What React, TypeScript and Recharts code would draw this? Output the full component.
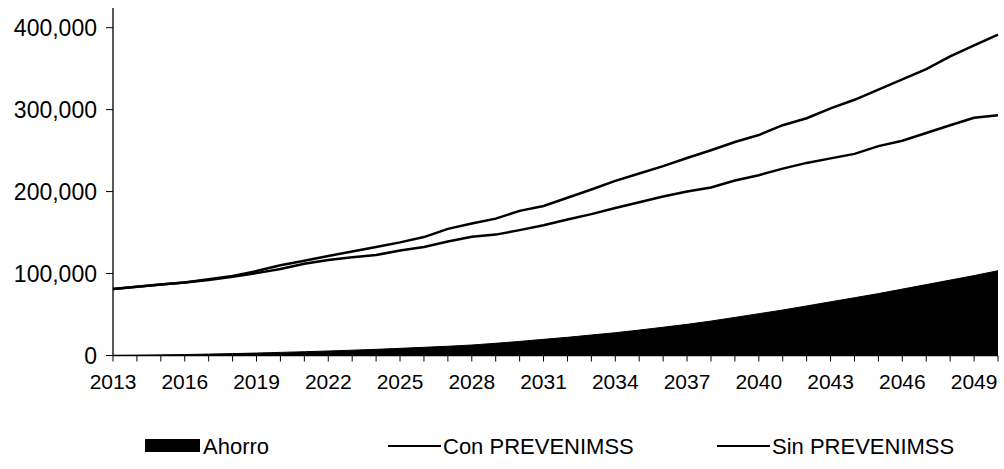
import React from 'react';
import { ComposedChart, Area, Line, XAxis, YAxis, Legend } from 'recharts';

const years = [
  2013, 2014, 2015, 2016, 2017, 2018, 2019, 2020, 2021, 2022,
  2023, 2024, 2025, 2026, 2027, 2028, 2029, 2030, 2031, 2032,
  2033, 2034, 2035, 2036, 2037, 2038, 2039, 2040, 2041, 2042,
  2043, 2044, 2045, 2046, 2047, 2048, 2049, 2050,
];

const ahorro = [
  0, 300, 700, 1200, 1700, 2300, 3000, 3800, 4600, 5500,
  6500, 7500, 8700, 10000, 11300, 12800, 14900, 17200, 19700, 22200,
  25000, 27800, 31000, 34500, 38000, 42000, 46500, 51000, 55500, 60500,
  65500, 70500, 75500, 81000, 86500, 92000, 97500, 103500,
];

const conPrevenimss = [
  81000, 84000, 86500, 89000, 92000, 96000, 100500, 105500, 112000, 116500,
  120000, 122500, 128000, 132500, 139000, 145000, 147500, 153000, 159000, 166000,
  172500, 180000, 187000, 194000, 200000, 205000, 213500, 220000, 228000, 235000,
  240500, 246000, 255500, 262000, 271500, 281000, 290000, 293000,
];

const sinPrevenimss = [
  81000, 84000, 86500, 89000, 93000, 97000, 103000, 110000, 115500, 121500,
  127000, 132500, 138000, 144500, 154500, 161000, 167000, 176500, 182500, 192500,
  202500, 213000, 222000, 231000, 241000, 250500, 260500, 269000, 281000, 289500,
  301500, 312000, 324500, 337000, 349500, 365000, 378500, 391500,
];

const yTicks = [0, 100000, 200000, 300000, 400000];
const xLabelYears = [2013, 2016, 2019, 2022, 2025, 2028, 2031, 2034, 2037, 2040, 2043, 2046, 2049];

const data = years.map((year, i) => ({
  year,
  ahorro: ahorro[i],
  con: conPrevenimss[i],
  sin: sinPrevenimss[i],
}));

const FONT = '"Liberation Sans", Arial, Helvetica, sans-serif';

const legendLayout: Record<string, { x: number; kind: 'rect' | 'line' }> = {
  Ahorro: { x: 145, kind: 'rect' },
  'Con PREVENIMSS': { x: 388, kind: 'line' },
  'Sin PREVENIMSS': { x: 717, kind: 'line' },
};

function LegendContent(props: any) {
  const payload = props.payload || [];
  const cy = 21;
  return (
    <div style={{ width: 1004, height: 34 }}>
      <svg width={1004} height={34} style={{ display: 'block' }}>
        {payload.map((entry: any) => {
          const name = entry.value as string;
          const lay = legendLayout[name];
          if (!lay) return null;
          if (lay.kind === 'rect') {
            return (
              <g key={name}>
                <rect x={lay.x} y={cy - 7} width={55} height={13} fill="#000" />
                <text x={lay.x + 58} y={cy} dy="0.36em" fontSize={22} fontFamily={FONT} fill="#000">
                  {name}
                </text>
              </g>
            );
          }
          return (
            <g key={name}>
              <line x1={lay.x} x2={lay.x + 53} y1={cy} y2={cy} stroke="#000" strokeWidth={2} />
              <text x={lay.x + 55} y={cy} dy="0.36em" fontSize={22} fontFamily={FONT} fill="#000">
                {name}
              </text>
            </g>
          );
        })}
      </svg>
    </div>
  );
}

export default function App() {
  return (
    <div style={{ position: 'absolute', left: 0, top: 0, width: 1004, height: 469, background: '#fff' }}>
      <ComposedChart
        width={1004}
        height={469}
        data={data}
        margin={{ top: 8, right: 6, bottom: 10, left: 0 }}
      >
        <XAxis
          dataKey="year"
          type="number"
          domain={[2013, 2050]}
          ticks={years}
          interval={0}
          tickSize={6}
          tickMargin={13}
          height={69.5}
          axisLine={{ stroke: '#000', strokeWidth: 1.3 }}
          tickLine={{ stroke: '#000', strokeWidth: 1 }}
          tick={{ fontSize: 21, fill: '#000', fontFamily: FONT }}
          tickFormatter={(v: number) => (xLabelYears.includes(v) ? String(v) : '')}
        />
        <YAxis
          type="number"
          domain={[0, 424000]}
          ticks={yTicks}
          interval={0}
          width={113}
          tickSize={7}
          tickMargin={9}
          axisLine={{ stroke: '#000', strokeWidth: 1.3 }}
          tickLine={{ stroke: '#000', strokeWidth: 1 }}
          tick={{ fontSize: 23, fill: '#000', fontFamily: FONT }}
          tickFormatter={(v: number) => v.toLocaleString('en-US')}
        />
        <Area
          type="linear"
          dataKey="ahorro"
          name="Ahorro"
          stroke="#000"
          strokeWidth={1}
          fill="#000"
          fillOpacity={1}
          isAnimationActive={false}
          dot={false}
          activeDot={false}
        />
        <Line
          type="linear"
          dataKey="con"
          name="Con PREVENIMSS"
          stroke="#000"
          strokeWidth={2.5}
          dot={false}
          activeDot={false}
          isAnimationActive={false}
        />
        <Line
          type="linear"
          dataKey="sin"
          name="Sin PREVENIMSS"
          stroke="#000"
          strokeWidth={2.5}
          dot={false}
          activeDot={false}
          isAnimationActive={false}
        />
        <Legend
          verticalAlign="bottom"
          content={LegendContent}
          wrapperStyle={{ left: 0, width: 1004, height: 34 }}
        />
      </ComposedChart>
    </div>
  );
}
